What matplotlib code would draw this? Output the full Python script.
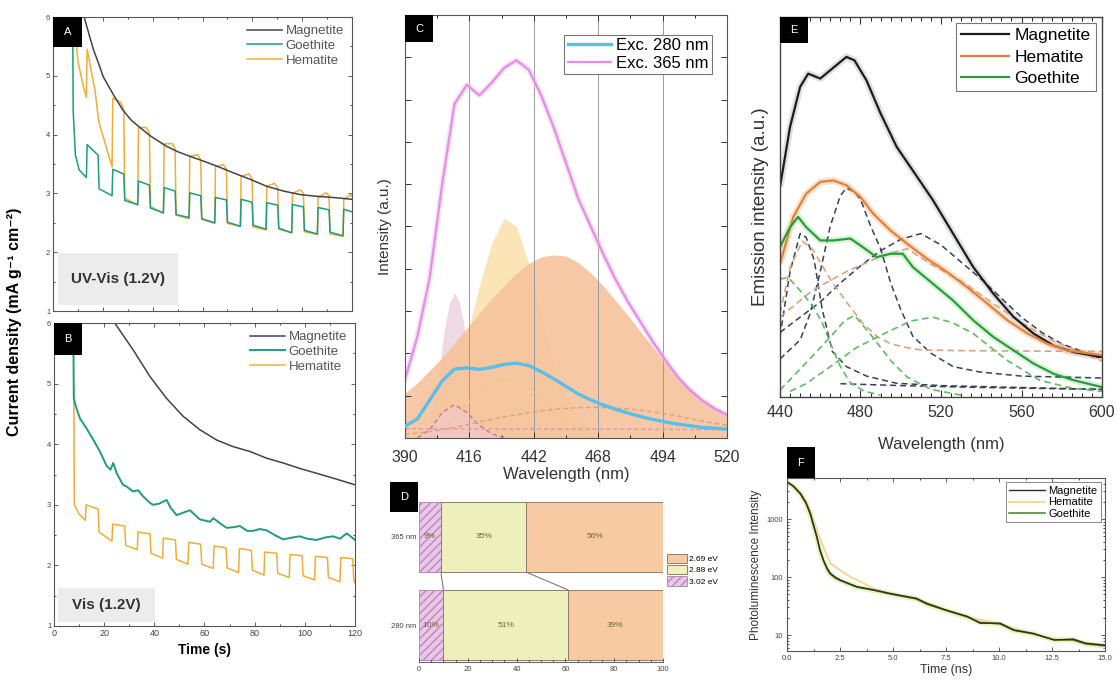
import numpy as np
import matplotlib
matplotlib.use('Agg')
import matplotlib.pyplot as plt
from matplotlib.patches import Rectangle, Patch
from matplotlib.ticker import MultipleLocator, FixedLocator, NullFormatter, FormatStrFormatter

plt.rcParams['font.family'] = ['Liberation Sans', 'DejaVu Sans']
plt.rcParams['xtick.direction'] = 'in'
plt.rcParams['ytick.direction'] = 'in'
plt.rcParams['xtick.top'] = True
plt.rcParams['ytick.right'] = True

W, H = 1117, 684

# ---------------- panel A (UV-Vis 1.2 V) ----------------
mag_a_t = [10.3, 12.5, 14.5, 16.2, 18.8, 20.2, 24.5, 28, 31.5, 35.5, 39, 45.6, 50, 55, 61, 66,
           72.4, 79.1, 85.8, 92.5, 99.2, 105.9, 112.6, 120]
mag_a_v = [6.5, 6.0, 5.7, 5.45, 5.15, 4.98, 4.66, 4.42, 4.24, 4.1, 3.98, 3.8, 3.71, 3.63, 3.54, 3.46,
           3.35, 3.24, 3.12, 3.04, 2.98, 2.95, 2.93, 2.9]

a_t_on = [13.5, 23.8, 34.1, 44.4, 54.7, 65.0, 75.3, 85.6, 95.9, 106.2, 116.5]
goe_a_pre_t = [7.8, 8.1, 9.0, 10.5, 13.4]
goe_a_pre_v = [6.7, 4.4, 3.65, 3.4, 3.27]
goe_a_on_start = [3.83, 3.41, 3.21, 3.10, 3.01, 2.93, 2.90, 2.84, 2.81, 2.76, 2.73]
goe_a_on_end = [3.65, 3.33, 3.14, 3.04, 2.96, 2.89, 2.85, 2.80, 2.77, 2.72, 2.69]
goe_a_off_start = [3.08, 2.88, 2.75, 2.64, 2.57, 2.51, 2.46, 2.41, 2.37, 2.34]
goe_a_off_end = [2.96, 2.81, 2.67, 2.59, 2.50, 2.44, 2.39, 2.33, 2.31, 2.28]

hem_a_pre_t = [7.9, 8.6, 10.0, 12.0, 13.4]
hem_a_pre_v = [6.7, 5.9, 5.25, 4.85, 4.63]
hem_a_on_start = [5.45, 4.62, 4.12, 3.84, 3.63, 3.45, 3.29, 3.12, 3.0, 2.93, 2.9]
hem_a_on_top = [4.75, 4.55, 4.12, 3.85, 3.66, 3.49, 3.33, 3.17, 3.06, 3.01, 2.99]
hem_a_on_end = [4.31, 4.42, 4.02, 3.76, 3.57, 3.41, 3.25, 3.09, 3.0, 2.96, 2.95]
hem_a_off_start = [4.2, 2.92, 2.78, 2.63, 2.56, 2.49, 2.43, 2.39, 2.35, 2.31]
hem_a_off_end = [3.45, 2.8, 2.66, 2.57, 2.49, 2.44, 2.38, 2.33, 2.3, 2.27]

# ---------------- panel B (Vis 1.2 V) ----------------
mag_b_t = [22.5, 24.2, 31.5, 38.2, 44.8, 51.5, 58.1, 64.8, 71.4, 78.1, 84.7, 91.4, 98, 104.7, 111.3, 120]
mag_b_v = [6.3, 6.0, 5.56, 5.12, 4.76, 4.46, 4.24, 4.07, 3.96, 3.88, 3.77, 3.69, 3.6, 3.52, 3.44, 3.33]

goe_b_t = [7.6, 7.9, 8.9, 10.4, 13.0, 15.7, 18.3, 21.0, 22.5, 23.6, 25.0, 27.5, 29.0, 31.5, 33.6, 35.5,
           38.3, 39.5, 42.0, 44.9, 46.5, 48.9, 52.8, 54.2, 58.1, 62.2, 63.5, 66.0, 68.8, 71.5, 74.1, 77.0,
           79.4, 82.0, 84.7, 88.0, 91.4, 95.0, 98.0, 101.0, 104.7, 108.0, 111.3, 114.0, 116.7, 118.5, 120.0]
goe_b_v = [6.5, 4.75, 4.6, 4.42, 4.26, 4.07, 3.88, 3.64, 3.58, 3.69, 3.52, 3.33, 3.3, 3.22, 3.24, 3.14,
           3.03, 3.0, 3.02, 3.08, 2.95, 2.83, 2.89, 2.91, 2.76, 2.72, 2.78, 2.7, 2.62, 2.63, 2.65, 2.57,
           2.57, 2.6, 2.58, 2.5, 2.43, 2.46, 2.48, 2.44, 2.42, 2.46, 2.48, 2.44, 2.53, 2.47, 2.42]

b_t_on = [12.6, 23.2, 33.3, 43.4, 53.5, 63.6, 73.7, 83.8, 93.9, 104.0, 114.1]
hem_b_pre_t = [7.9, 8.1, 10.0, 12.5]
hem_b_pre_v = [4.9, 3.0, 2.85, 2.74]
hem_b_on_start = [3.0, 2.68, 2.55, 2.45, 2.38, 2.32, 2.28, 2.22, 2.18, 2.15, 2.13]
hem_b_on_end = [2.93, 2.65, 2.52, 2.42, 2.35, 2.29, 2.25, 2.2, 2.16, 2.13, 2.11]
hem_b_off_start = [2.55, 2.33, 2.2, 2.1, 2.02, 1.96, 1.92, 1.87, 1.83, 1.8, 1.77]
hem_b_off_end = [2.4, 2.26, 2.12, 2.02, 1.95, 1.88, 1.84, 1.80, 1.76, 1.73, 1.71]

# ---------------- panel C (PL spectra) ----------------
c_wl = [390, 395, 400, 405, 410, 415, 420, 425, 430, 435, 440, 445, 450, 455, 460, 465, 470, 475,
        480, 485, 490, 495, 500, 505, 510, 515, 520]
c_exc365 = [0.138, 0.24, 0.38, 0.6, 0.79, 0.835, 0.81, 0.84, 0.875, 0.893, 0.87, 0.81, 0.735, 0.65,
            0.565, 0.5, 0.435, 0.375, 0.322, 0.275, 0.228, 0.185, 0.145, 0.113, 0.088, 0.069, 0.055]
c_exc280 = [0.028, 0.045, 0.09, 0.135, 0.163, 0.166, 0.162, 0.167, 0.174, 0.177, 0.171, 0.157, 0.14,
            0.122, 0.104, 0.09, 0.078, 0.068, 0.059, 0.051, 0.044, 0.038, 0.033, 0.029, 0.025, 0.023, 0.021]
c_fill_269 = [0.106, 0.13, 0.16, 0.19, 0.225, 0.26, 0.295, 0.33, 0.36, 0.39, 0.413, 0.428, 0.433, 0.43,
              0.415, 0.39, 0.36, 0.325, 0.29, 0.252, 0.215, 0.18, 0.148, 0.12, 0.095, 0.075, 0.058]
c_wl_288 = [400, 405, 410, 415, 420, 425, 430, 435, 440, 445, 450, 455, 460, 465, 470]
c_fill_288 = [0.03, 0.07, 0.14, 0.24, 0.36, 0.46, 0.52, 0.5, 0.41, 0.29, 0.18, 0.1, 0.05, 0.02, 0.01]
c_wl_302 = [398, 400, 403, 406, 408, 410, 412, 414, 417, 420, 424, 428]
c_fill_302 = [0.0, 0.04, 0.13, 0.26, 0.32, 0.343, 0.32, 0.26, 0.15, 0.07, 0.02, 0.0]
c_wl_d302 = [395, 400, 405, 410, 415, 420, 425, 430]
c_dash_302 = [0.0, 0.02, 0.06, 0.079, 0.06, 0.03, 0.01, 0.0]
c_wl_d288 = [405, 410, 415, 420, 425, 430, 435, 440, 445, 450, 455, 460, 465]
c_dash_288 = [0.02, 0.045, 0.08, 0.11, 0.13, 0.138, 0.135, 0.12, 0.095, 0.065, 0.04, 0.02, 0.01]
c_wl_d269 = [390, 400, 410, 420, 430, 440, 450, 460, 470, 480, 490, 500, 510, 520]
c_dash_269 = [0.008, 0.015, 0.025, 0.038, 0.05, 0.06, 0.068, 0.072, 0.072, 0.069, 0.062, 0.052, 0.04, 0.03]

# ---------------- panel D (component shares) ----------------
d_rows = ['365 nm', '280 nm']
d_energies = ['3.02 eV', '2.88 eV', '2.69 eV']
d_pct = {'365 nm': [9, 35, 56], '280 nm': [10, 51, 39]}

# ---------------- panel E (emission) ----------------
e_wl_mag = [440, 445, 450, 454, 460, 465, 473, 477, 483, 490, 498, 506, 516, 526, 536, 546, 556, 566, 576, 586, 600]
e_mag = [0.553, 0.711, 0.816, 0.851, 0.838, 0.86, 0.895, 0.886, 0.833, 0.746, 0.658, 0.596, 0.518, 0.43,
         0.342, 0.272, 0.211, 0.167, 0.135, 0.118, 0.105]
e_wl_hem = [440, 446.6, 453, 460, 466.5, 473, 480, 486.4, 494.7, 503, 513, 523, 533, 543, 553, 563, 573, 583, 600]
e_hem = [0.35, 0.474, 0.535, 0.566, 0.57, 0.557, 0.526, 0.482, 0.439, 0.404, 0.364, 0.329, 0.289, 0.246,
         0.202, 0.167, 0.14, 0.122, 0.11]
e_wl_goe = [440, 445, 449, 453, 460, 466.5, 475, 481, 488, 495, 501, 506, 516, 526, 536, 546, 556, 566, 576, 586, 600]
e_goe = [0.395, 0.447, 0.474, 0.447, 0.412, 0.412, 0.417, 0.395, 0.368, 0.377, 0.377, 0.342, 0.298, 0.254,
         0.202, 0.158, 0.123, 0.088, 0.061, 0.044, 0.026]

e_comp_mag = [
    ([440, 445, 450, 453, 457, 461, 466, 473, 483, 498, 520, 560, 600],
     [0.16, 0.33, 0.43, 0.42, 0.36, 0.23, 0.12, 0.08, 0.055, 0.036, 0.03, 0.025, 0.02]),
    ([440, 450, 455, 460, 465, 470, 473, 477, 480, 485, 490, 495, 500, 506, 515, 526, 539, 560, 600],
     [0.10, 0.15, 0.22, 0.33, 0.45, 0.53, 0.55, 0.54, 0.52, 0.45, 0.39, 0.30, 0.23, 0.16, 0.115, 0.08, 0.066, 0.055, 0.05]),
    ([440, 450, 460, 470, 480, 490, 500, 510, 520, 530, 540, 550, 560, 570, 580, 590, 600],
     [0.17, 0.21, 0.25, 0.30, 0.345, 0.385, 0.415, 0.43, 0.40, 0.355, 0.31, 0.26, 0.21, 0.17, 0.14, 0.12, 0.10]),
    ([470, 500, 540, 600], [0.035, 0.03, 0.025, 0.02]),
]
e_comp_hem = [
    ([440, 445, 451, 456, 465, 473, 481, 488, 495, 503, 510, 530, 560, 600],
     [0.22, 0.34, 0.41, 0.39, 0.31, 0.25, 0.195, 0.16, 0.14, 0.13, 0.124, 0.122, 0.121, 0.12]),
    ([440, 456, 473, 490, 503, 515, 530, 545, 560, 575, 590, 600],
     [0.21, 0.28, 0.33, 0.37, 0.39, 0.35, 0.305, 0.25, 0.195, 0.15, 0.115, 0.095]),
]
e_comp_goe = [
    ([440, 444, 450, 456.6, 461, 465, 470, 475, 482, 490],
     [0.31, 0.315, 0.28, 0.237, 0.195, 0.142, 0.08, 0.037, 0.015, 0.005]),
    ([440, 453, 465, 472, 477, 486, 495, 503, 515, 530],
     [0.018, 0.09, 0.158, 0.2, 0.215, 0.158, 0.096, 0.053, 0.02, 0.005]),
    ([445, 453, 465, 478, 495, 505, 516, 526, 536, 553, 569, 586, 600],
     [0.015, 0.035, 0.08, 0.13, 0.175, 0.2, 0.21, 0.195, 0.167, 0.096, 0.044, 0.022, 0.015]),
]

# ---------------- panel F (decay) ----------------
f_t = [0.0, 0.3, 0.63, 0.9, 1.1, 1.25, 1.41, 1.55, 1.72, 1.9, 2.04, 2.3, 2.51, 3.0, 3.3, 4.1, 4.87,
       5.65, 6.1, 6.6, 7.5, 8.5, 9.1, 10.05, 10.7, 11.6, 12.6, 13.5, 14.1, 15.0]
f_mag = [4390, 3700, 2770, 1900, 1250, 800, 495, 300, 196, 140, 116, 98, 89, 75, 68, 60, 52, 46, 43,
         35, 27, 21, 16, 16, 12.2, 10.7, 8.2, 8.5, 7.2, 6.7]
f_goe = [4390, 3650, 2700, 1850, 1200, 760, 480, 290, 190, 135, 112, 95, 87, 74, 67, 59, 51, 45, 42,
         34, 26.5, 20.5, 16.5, 15.5, 12, 10.5, 8.3, 8.2, 7.0, 6.5]
f_t_hem = [0.0, 0.3, 0.63, 0.9, 1.1, 1.41, 1.72, 2.04, 2.51, 3.0, 3.3, 3.7, 4.1, 4.87, 5.65, 6.6, 7.5,
           8.5, 10.05, 11.6, 12.6, 13.5, 15.0]
f_hem = [4390, 3750, 2900, 2050, 1400, 650, 330, 172, 131, 100, 89, 75, 62, 52, 46, 36, 27, 20.5,
         15.5, 10.5, 8.3, 8, 6.6]


def chopped(pre_t, pre_v, t_on, dur, on_a, on_b, off_a, off_b, top=None, t_end=120.0):
    t, v = list(pre_t), list(pre_v)
    for k, ton in enumerate(t_on):
        toff = min(ton + dur, t_end)
        t.append(ton + 0.2); v.append(on_a[k])
        if top is not None:
            t.append(ton + 0.7 * dur); v.append(top[k])
        t.append(toff - 0.2); v.append(on_b[k])
        if k < len(off_a):
            nxt = t_on[k + 1] if k + 1 < len(t_on) else t_end
            t.append(toff + 0.2); v.append(off_a[k])
            t.append(nxt - 0.1); v.append(off_b[k])
    return t, v


def fax(l, t, r, b):
    return fig.add_axes([l / W, 1 - b / H, (r - l) / W, (b - t) / H])


def tag(x0, y0, x1, y1, letter):
    fig.add_artist(Rectangle((x0 / W, 1 - y1 / H), (x1 - x0) / W, (y1 - y0) / H,
                             transform=fig.transFigure, facecolor='black', edgecolor='none', zorder=20))
    fig.text((x0 + x1) / 2 / W, 1 - (y0 + y1) / 2 / H, letter, color='white', ha='center',
             va='center', fontsize=8, zorder=21)


def frame(ax, lw=0.8, col='#555555'):
    for s in ax.spines.values():
        s.set_linewidth(lw)
        s.set_color(col)


fig = plt.figure(figsize=(W / 100, H / 100), dpi=100)

col_mag = '#45414f'
col_goe = '#1f9c7e'
col_hem = '#f0ae35'

# ---- A ----
axA = fax(53, 17, 352, 311)
t, v = chopped(hem_a_pre_t, hem_a_pre_v, a_t_on, 4.8, hem_a_on_start, hem_a_on_end,
               hem_a_off_start, hem_a_off_end, top=hem_a_on_top)
axA.plot(t, v, color=col_hem, lw=1.1, label='Hematite')
t, v = chopped(goe_a_pre_t, goe_a_pre_v, a_t_on, 4.8, goe_a_on_start, goe_a_on_end,
               goe_a_off_start, goe_a_off_end)
axA.plot(t, v, color=col_goe, lw=1.1, label='Goethite')
axA.plot(mag_a_t, mag_a_v, color=col_mag, lw=1.1, label='Magnetite')

# ---- B ----
axB = fax(54, 323, 355, 626)
t, v = chopped(hem_b_pre_t, hem_b_pre_v, b_t_on, 5.2, hem_b_on_start, hem_b_on_end,
               hem_b_off_start, hem_b_off_end)
axB.plot(t, v, color=col_hem, lw=1.1, label='Hematite')
axB.plot(goe_b_t, goe_b_v, color=col_goe, lw=1.4, label='Goethite')
axB.plot(mag_b_t, mag_b_v, color=col_mag, lw=1.1, label='Magnetite')

for ax, txt, box in ((axA, 'UV-Vis (1.2V)', (0.017, 0.02, 0.40, 0.177)),
                     (axB, 'Vis (1.2V)', (0.013, 0.013, 0.323, 0.112))):
    ax.set_xlim(0, 120)
    ax.set_ylim(1, 6)
    ax.xaxis.set_major_locator(MultipleLocator(20))
    ax.xaxis.set_minor_locator(MultipleLocator(10))
    ax.yaxis.set_major_locator(MultipleLocator(1))
    ax.yaxis.set_minor_locator(MultipleLocator(0.5))
    ax.tick_params(which='major', length=3, width=0.6, labelsize=5.5, colors='#444444', pad=2)
    ax.tick_params(which='minor', length=1.6, width=0.5, top=True, right=True)
    frame(ax)
    h, l = ax.get_legend_handles_labels()
    order = [2, 1, 0]
    lg = ax.legend([h[i] for i in order], [l[i] for i in order], loc='upper right', frameon=False,
                   fontsize=9.5, handlelength=2.6, labelspacing=0.2, borderaxespad=0.2,
                   handletextpad=0.3)
    for tx in lg.get_texts():
        tx.set_color('#555555')
    ax.add_patch(Rectangle((box[0], box[1]), box[2], box[3], transform=ax.transAxes,
                           facecolor='#ececec', edgecolor='none', zorder=0))
    ax.text(box[0] + box[2] / 2, box[1] + box[3] / 2, txt, transform=ax.transAxes, ha='center',
            va='center', fontsize=11, fontweight='bold', color='#333333')

axA.tick_params(labelbottom=False)
axB.tick_params(axis='x', labelsize=6.5)
axB.set_xlabel('Time (s)', fontsize=10, fontweight='bold', labelpad=4)
fig.text(15 / W, 1 - 322 / H, 'Current density (mA g\u207b\u00b9 cm\u207b\u00b2)', rotation=90,
         ha='center', va='center', fontsize=11.5, fontweight='bold')

# ---- C ----
axC = fax(405, 15, 727, 438)
axC.fill_between(c_wl_302, 0, c_fill_302, color='#efd9e4', lw=0)
axC.fill_between(c_wl_288, 0, c_fill_288, color='#fbe5b6', lw=0)
axC.fill_between(c_wl, 0, c_fill_269, color='#f6c49d', alpha=0.92, lw=0)
axC.fill_between(c_wl_d302, 0, c_dash_302, color='#efc8dc', alpha=0.5, lw=0)
axC.plot(c_wl_d302, c_dash_302, color='#c47f9e', lw=1.1, ls=(0, (3, 2)))
axC.plot(c_wl_d288, c_dash_288, color='#f5c58e', lw=1.1, ls=(0, (3, 2)))
axC.plot(c_wl_d269, c_dash_269, color='#e6a07a', lw=1.1, ls=(0, (3, 2)))
axC.plot([390, 520], [0.022, 0.02], color='#d59ab0', lw=1.0, ls=(0, (3, 2)))
axC.plot(c_wl, c_exc365, color='#f2c5f0', lw=4, alpha=0.5)
l280, = axC.plot(c_wl, c_exc280, color='#57bfe9', lw=2.4, label='Exc. 280 nm')
l365, = axC.plot(c_wl, c_exc365, color='#e58ee3', lw=1.6, label='Exc. 365 nm')
axC.set_xlim(390, 520)
axC.set_ylim(0, 1)
axC.set_xticks([390, 416, 442, 468, 494, 520])
axC.xaxis.set_minor_locator(MultipleLocator(13))
axC.yaxis.set_major_locator(MultipleLocator(0.1))
axC.grid(axis='x', color='#9a9a9a', lw=0.7)
axC.tick_params(which='major', length=4, width=0.7, labelsize=11.5, colors='#333333', pad=9,
                labelleft=False)
axC.tick_params(which='minor', length=2.5, width=0.6)
axC.set_xlabel('Wavelength (nm)', fontsize=12, labelpad=1, color='#333333')
axC.set_ylabel('Intensity (a.u.)', fontsize=11, labelpad=9, color='#333333')
frame(axC)
lg = axC.legend(handles=[l280, l365], loc='upper right', bbox_to_anchor=(1 - 15 / 322, 1 - 20 / 423),
                fontsize=12, handlelength=2.6, labelspacing=0.15, borderpad=0.2, borderaxespad=0,
                handletextpad=0.3, fancybox=False, edgecolor='#777777', framealpha=1)
lg.get_frame().set_linewidth(0.8)
l280.set_zorder(5)

# ---- D ----
axD = fax(419, 500, 663, 662)
d_cols = {'3.02 eV': '#eac6e8', '2.88 eV': '#eef0bb', '2.69 eV': '#f8caa4'}
d_hatch = {'3.02 eV': '////', '2.88 eV': None, '2.69 eV': None}
d_y = {'365 nm': 1, '280 nm': 0}
cums = {}
for row in d_rows:
    left = 0
    edges = []
    for en, p in zip(d_energies, d_pct[row]):
        axD.barh(d_y[row], p, left=left, height=0.8, color=d_cols[en], hatch=d_hatch[en],
                 edgecolor='#8c7d6e' if d_hatch[en] is None else '#b88ab8', lw=0.7)
        axD.text(left + p / 2, d_y[row], f'{p}%', ha='center', va='center', fontsize=6,
                 color='#6d6a2e')
        left += p
        edges.append(left)
    cums[row] = edges
for j in range(2):
    axD.plot([cums['365 nm'][j], cums['280 nm'][j]], [0.6, 0.4], color='#7a7a7a', lw=0.8)
axD.set_xlim(0, 100)
axD.set_ylim(-0.42, 1.42)
axD.set_yticks([d_y[r] for r in d_rows])
axD.set_yticklabels(d_rows)
axD.xaxis.set_major_locator(MultipleLocator(20))
axD.xaxis.set_minor_locator(MultipleLocator(5))
axD.tick_params(axis='y', length=0, labelsize=5.5, colors='#444444', pad=2, right=False)
axD.tick_params(axis='x', which='major', length=3, width=0.6, labelsize=5.5, colors='#444444',
                top=False, pad=3)
axD.tick_params(axis='x', which='minor', length=1.5, width=0.5, top=False)
for s in ('top', 'right', 'left'):
    axD.spines[s].set_visible(False)
axD.spines['bottom'].set_color('#666666')
axD.spines['bottom'].set_linewidth(0.8)
hd = [Patch(facecolor=d_cols[e], edgecolor='#8c7d6e' if d_hatch[e] is None else '#b88ab8',
            hatch=d_hatch[e], lw=0.7) for e in d_energies[::-1]]
lg = axD.legend(hd, d_energies[::-1], loc='center left', bbox_to_anchor=(1.0, 0.57),
                frameon=False, fontsize=6, handlelength=2.4, handleheight=1.4, labelspacing=0.2,
                borderaxespad=0.05, handletextpad=0.3)

# ---- E ----
axE = fax(780, 17, 1102, 397)
for wl, vals, c in ((e_wl_mag, e_mag, '#c9c9c9'), (e_wl_hem, e_hem, '#f8c9a0'),
                    (e_wl_goe, e_goe, '#bfe8c0')):
    axE.plot(wl, vals, color=c, lw=5, alpha=0.55, solid_capstyle='butt')
for wl, vals in e_comp_mag:
    axE.plot(wl, vals, color='#3a3f57', lw=1.1, ls=(0, (4, 2.5)))
for wl, vals in e_comp_hem:
    axE.plot(wl, vals, color='#dca27c', lw=1.2, ls=(0, (4, 2.5)))
for wl, vals in e_comp_goe:
    axE.plot(wl, vals, color='#62bb63', lw=1.2, ls=(0, (4, 2.5)))
hm, = axE.plot(e_wl_mag, e_mag, color='#1c1c1c', lw=1.6, label='Magnetite')
hh, = axE.plot(e_wl_hem, e_hem, color='#e0823e', lw=1.6, label='Hematite')
hg, = axE.plot(e_wl_goe, e_goe, color='#2a9e36', lw=1.6, label='Goethite')
axE.set_xlim(440, 600)
axE.set_ylim(0, 1)
axE.xaxis.set_major_locator(MultipleLocator(40))
axE.xaxis.set_minor_locator(MultipleLocator(5))
axE.set_yticks([])
axE.tick_params(which='major', length=5, width=0.8, labelsize=11.5, colors='#333333', pad=6)
axE.tick_params(which='minor', length=3, width=0.6)
axE.set_xlabel('Wavelength (nm)', fontsize=12, labelpad=12, color='#333333')
axE.set_ylabel('Emission intensity (a.u.)', fontsize=13.5, labelpad=8, color='#333333')
frame(axE, lw=1.0, col='#444444')
lg = axE.legend(handles=[hm, hh, hg], loc='upper right', fontsize=12.5, handlelength=2.8,
                labelspacing=0.35, borderpad=0.3, borderaxespad=0.35, handletextpad=0.3,
                fancybox=False, edgecolor='#777777', framealpha=1)
lg.get_frame().set_linewidth(0.8)

# ---- F ----
axF = fax(787, 478, 1105, 651)
axF.plot(f_t, f_goe, color='#e3eea0', lw=4, alpha=0.7)
fh, = axF.plot(f_t_hem, f_hem, color='#f6d592', lw=1.3, label='Hematite')
fg, = axF.plot(f_t, f_goe, color='#3f7f2c', lw=1.1, label='Goethite')
fm, = axF.plot(f_t, f_mag, color='#2b2b2b', lw=1.0, label='Magnetite')
axF.set_yscale('log')
axF.set_xlim(0, 15)
axF.set_ylim(5.3, 5100)
axF.xaxis.set_major_locator(MultipleLocator(2.5))
axF.xaxis.set_minor_locator(MultipleLocator(1.25))
axF.yaxis.set_major_locator(FixedLocator([10, 100, 1000]))
axF.set_yticklabels(['10', '100', '1000'])
axF.yaxis.set_minor_formatter(NullFormatter())
axF.xaxis.set_major_formatter(FormatStrFormatter('%.1f'))
axF.tick_params(which='major', length=3, width=0.6, labelsize=5.5, colors='#444444', pad=3)
axF.tick_params(which='minor', length=1.5, width=0.5)
axF.set_xlabel('Time (ns)', fontsize=9, labelpad=1, color='#333333')
axF.set_ylabel('Photoluminescence Intensity', fontsize=8.5, labelpad=3, color='#333333')
frame(axF)
lg = axF.legend(handles=[fm, fh, fg], labels=['Magnetite', 'Hematite', 'Goethite'],
                loc='upper right', fontsize=8, handlelength=3.2, labelspacing=0.15,
                borderpad=0.3, borderaxespad=0.4, handletextpad=0.3, fancybox=False,
                edgecolor='#888888', framealpha=1)
lg.get_frame().set_linewidth(0.7)

# panel tags
tag(53, 17, 82, 47, 'A')
tag(54, 323, 82, 355, 'B')
tag(405, 15, 433, 42, 'C')
tag(390, 482, 418, 512, 'D')
tag(780, 17, 808, 43, 'E')
tag(787, 447, 815, 478, 'F')

fig.savefig('out.png', dpi=100)
